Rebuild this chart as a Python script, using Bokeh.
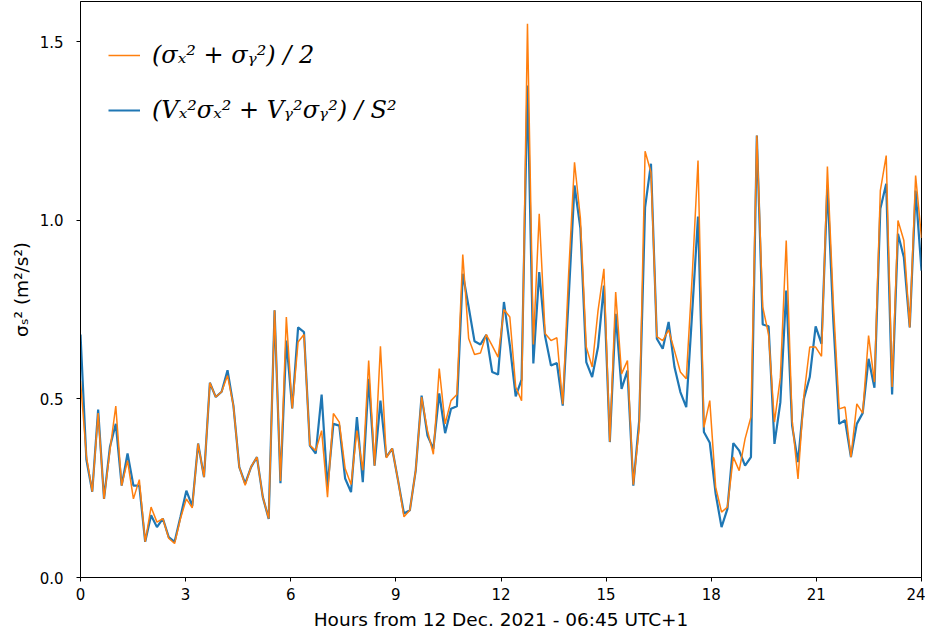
from bokeh.plotting import figure
from bokeh.models import Range1d, FixedTicker, Legend, LegendItem, PrintfTickFormatter
from bokeh.embed import file_html
from bokeh.resources import INLINE

# sigma^2 series sampled regularly over 24 hours
blue_vals = [
    0.68, 0.33, 0.24, 0.47, 0.22, 0.365, 0.43, 0.257, 0.347, 0.257,
    0.257, 0.10, 0.174, 0.141, 0.165, 0.113, 0.10, 0.17, 0.243, 0.20,
    0.375, 0.281, 0.545, 0.505, 0.52, 0.58, 0.481, 0.309, 0.263, 0.309,
    0.337, 0.225, 0.164, 0.748, 0.264, 0.663, 0.473, 0.70, 0.687, 0.369,
    0.347, 0.512, 0.253, 0.43, 0.425, 0.277, 0.239, 0.449, 0.267, 0.556,
    0.313, 0.495, 0.337, 0.361, 0.271, 0.179, 0.188, 0.30, 0.509, 0.397,
    0.36, 0.515, 0.404, 0.472, 0.479, 0.85, 0.757, 0.661, 0.652, 0.679,
    0.575, 0.568, 0.771, 0.65, 0.507, 0.554, 1.377, 0.599, 0.855, 0.675,
    0.593, 0.60, 0.481, 0.78, 1.097, 0.977, 0.603, 0.561, 0.645, 0.817,
    0.379, 0.738, 0.528, 0.579, 0.257, 0.44, 1.036, 1.158, 0.668, 0.640,
    0.715, 0.589, 0.519, 0.477, 0.74, 1.01, 0.407, 0.377, 0.234, 0.141,
    0.192, 0.376, 0.355, 0.313, 0.337, 1.237, 0.708, 0.703, 0.374, 0.49,
    0.803, 0.425, 0.323, 0.50, 0.561, 0.703, 0.654, 1.097, 0.72, 0.43,
    0.44, 0.337, 0.43, 0.46, 0.612, 0.531, 1.032, 1.102, 0.512, 0.962,
    0.896, 0.70, 1.083, 0.859,
]
orange_vals = [
    0.55, 0.34, 0.24, 0.46, 0.22, 0.355, 0.48, 0.257, 0.327, 0.22,
    0.274, 0.10, 0.197, 0.155, 0.165, 0.11, 0.095, 0.165, 0.22, 0.195,
    0.375, 0.281, 0.545, 0.505, 0.52, 0.565, 0.481, 0.309, 0.258, 0.31,
    0.337, 0.225, 0.165, 0.748, 0.27, 0.729, 0.473, 0.659, 0.68, 0.37,
    0.355, 0.411, 0.225, 0.459, 0.435, 0.305, 0.26, 0.411, 0.30, 0.607,
    0.313, 0.647, 0.335, 0.361, 0.271, 0.17, 0.188, 0.30, 0.505, 0.411,
    0.345, 0.585, 0.43, 0.495, 0.512, 0.904, 0.669, 0.624, 0.628, 0.68,
    0.649, 0.617, 0.75, 0.729, 0.533, 0.495, 1.55, 0.652, 1.018, 0.683,
    0.663, 0.671, 0.485, 0.85, 1.162, 1.005, 0.645, 0.589, 0.747, 0.864,
    0.38, 0.799, 0.570, 0.607, 0.26, 0.42, 1.193, 1.134, 0.674, 0.663,
    0.693, 0.635, 0.575, 0.556, 0.84, 1.167, 0.42, 0.495, 0.253, 0.183,
    0.197, 0.337, 0.299, 0.388, 0.449, 1.237, 0.757, 0.68, 0.435, 0.56,
    0.943, 0.44, 0.276, 0.509, 0.645, 0.645, 0.619, 1.150, 0.77, 0.472,
    0.477, 0.337, 0.486, 0.46, 0.677, 0.547, 1.083, 1.181, 0.533, 0.999,
    0.943, 0.70, 1.125, 0.95,
]
span_hours = 24
hours = [i * span_hours / (len(blue_vals) - 1) for i in range(len(blue_vals))]

x_ticks = [0, 3, 6, 9, 12, 15, 18, 21, 24]
y_ticks = [0.0, 0.5, 1.0, 1.5]

label_orange = "(σₓ² + σᵧ²) / 2"
label_blue = "(Vₓ²σₓ² + Vᵧ²σᵧ²) / S²"

p = figure(width=925, height=632, x_range=Range1d(0, 24), y_range=Range1d(0, 1.612),
           output_backend="svg", toolbar_location=None,
           min_border_left=80, min_border_right=4, min_border_top=1, min_border_bottom=55)
p.background_fill_color = "white"
p.border_fill_color = "white"
p.outline_line_color = "black"
p.outline_line_alpha = 1.0
p.outline_line_width = 1
p.grid.visible = False

r_blue = p.line(hours, blue_vals, line_color="#1f77b4", line_width=2.2)
r_orange = p.line(hours, orange_vals, line_color="#ff7f0e", line_width=1.5)

for ax in (p.xaxis[0], p.yaxis[0]):
    ax.axis_line_color = "black"
    ax.major_tick_line_color = "black"
    ax.major_tick_out = 4
    ax.major_tick_in = 0
    ax.minor_tick_line_color = None
    ax.major_label_text_font = "DejaVu Sans"
    ax.major_label_text_font_size = "15px"
    ax.major_label_text_color = "black"
    ax.axis_label_text_font = "DejaVu Sans"
    ax.axis_label_text_font_size = "18.5px"
    ax.axis_label_text_font_style = "normal"
    ax.axis_label_text_color = "black"

p.xaxis.ticker = FixedTicker(ticks=x_ticks)
p.yaxis.ticker = FixedTicker(ticks=y_ticks)
p.yaxis.formatter = PrintfTickFormatter(format="%.1f")
p.xaxis.axis_label = "Hours from 12 Dec. 2021 - 06:45 UTC+1"
p.yaxis.axis_label = "σₛ² (m²/s²)"
p.xaxis.major_label_standoff = 6
p.xaxis.axis_label_standoff = 6
p.yaxis.major_label_standoff = 13
p.yaxis.axis_label_standoff = 5

legend = Legend(items=[LegendItem(label=label_orange, renderers=[r_orange]),
                       LegendItem(label=label_blue, renderers=[r_blue])],
                location="top_left", margin=12, padding=16,
                glyph_width=32, glyph_height=52, label_height=52,
                label_standoff=12, spacing=3,
                label_text_font="DejaVu Serif", label_text_font_style="italic",
                label_text_font_size="24px", label_text_color="black",
                background_fill_color="white", background_fill_alpha=0.8,
                border_line_alpha=0)
p.add_layout(legend)

open("out.html", "w").write(file_html(p, INLINE))
